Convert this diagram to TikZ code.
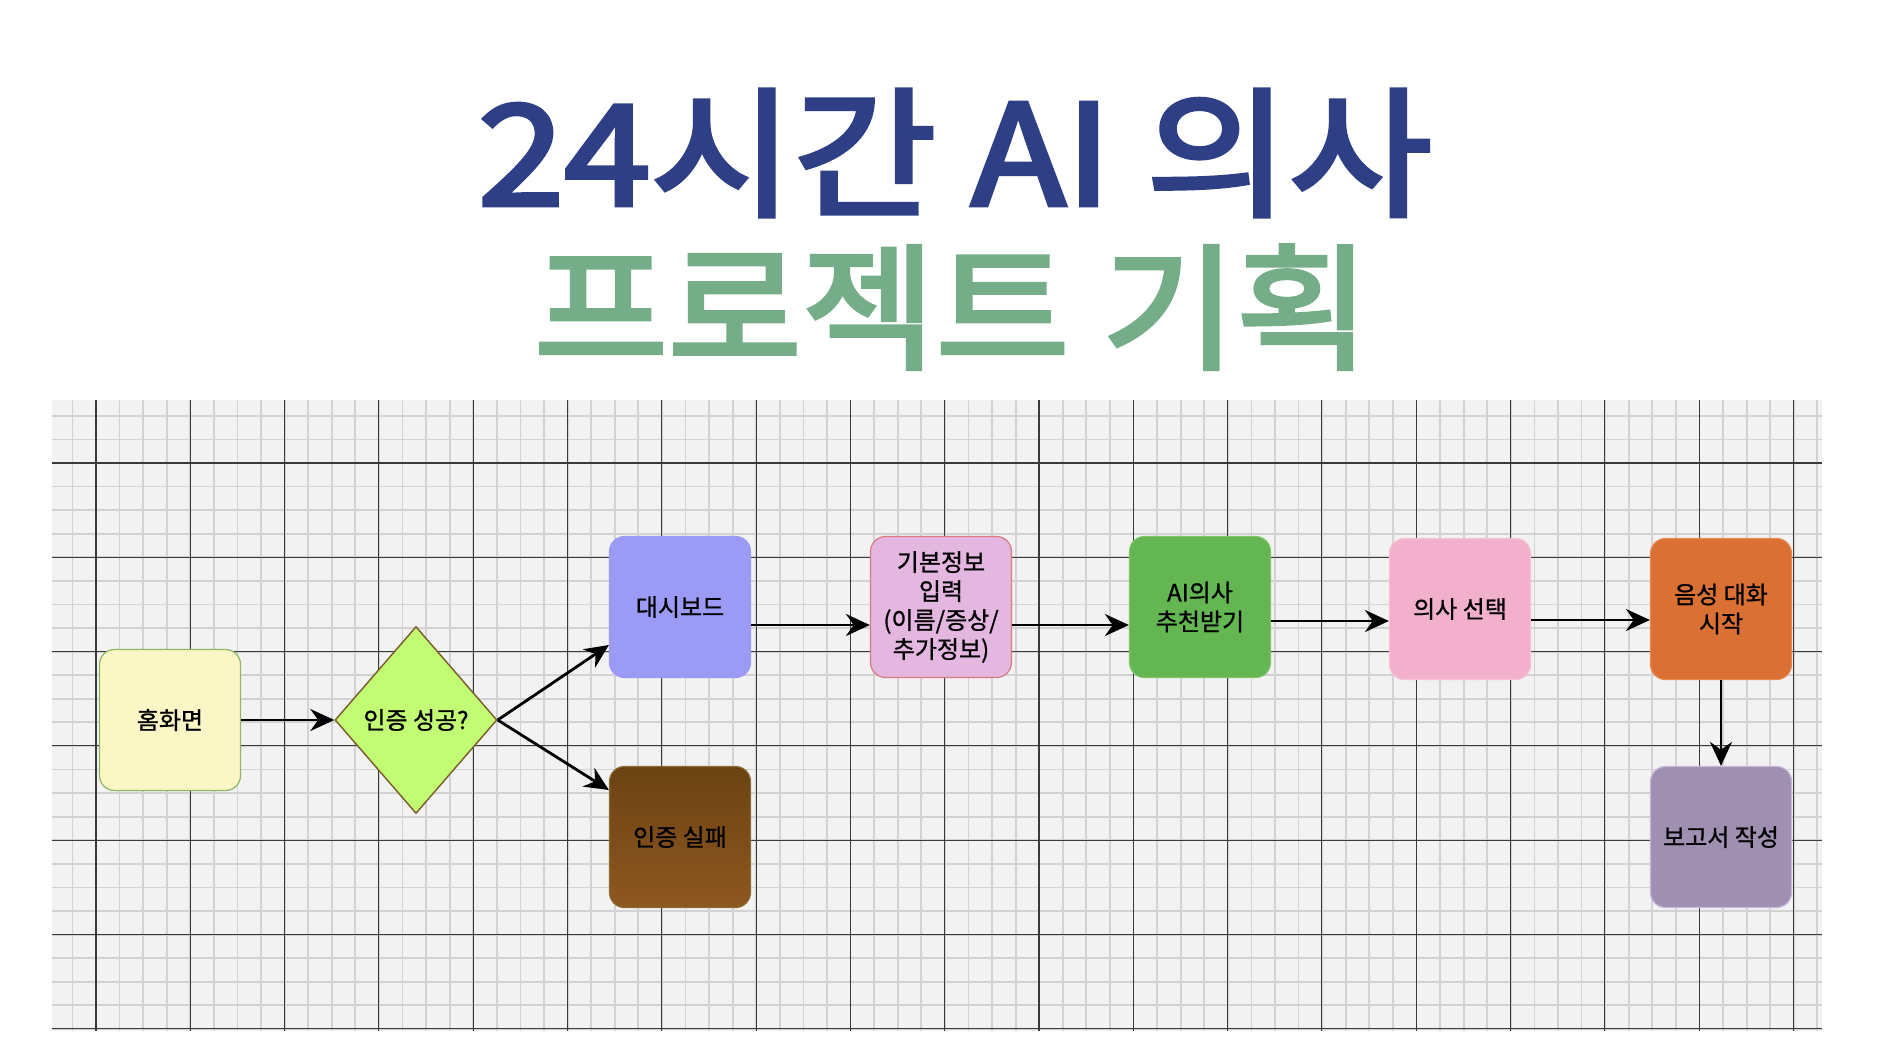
\documentclass[tikz,border=0pt]{standalone}
\usepackage{fontspec}
\usetikzlibrary{shapes.geometric,arrows.meta}
\newfontfamily\kr{Noto Sans CJK KR}[FakeBold=1]
\newfontfamily\krb{Noto Sans CJK KR}[FakeBold=3]
\definecolor{navy}{HTML}{2E3F85}
\definecolor{tgreen}{HTML}{75AD88}
\definecolor{gridbg}{HTML}{F2F2F2}
\definecolor{minorc}{HTML}{D2D2D2}
\definecolor{majorc}{HTML}{3A3A3A}
\definecolor{homef}{HTML}{FAF6C5}\definecolor{homed}{HTML}{8DB863}
\definecolor{authf}{HTML}{C2FC75}\definecolor{authd}{HTML}{7A5A28}
\definecolor{dashf}{HTML}{9B9BF5}
\definecolor{failt}{HTML}{6B4313}\definecolor{failb}{HTML}{8E5720}\definecolor{faild}{HTML}{8B6A2E}
\definecolor{infof}{HTML}{E4B7E0}\definecolor{infod}{HTML}{D97A80}
\definecolor{aif}{HTML}{63B651}\definecolor{aid}{HTML}{7FC36B}
\definecolor{self}{HTML}{F3B0CC}\definecolor{seld}{HTML}{F7C0D4}
\definecolor{voicef}{HTML}{DA7033}\definecolor{voiced}{HTML}{E88A50}
\definecolor{repf}{HTML}{9F8FB0}\definecolor{repd}{HTML}{C6B5DF}
\tikzset{
  box/.style={rounded corners=15pt, minimum width=141pt, minimum height=141pt, line width=1.2pt, font=\kr\fontsize{24}{29}\selectfont, align=center, text=black},
  conn/.style={line width=2.8pt, -{Stealth[length=24pt,width=22pt]}},
}
\begin{document}
\begin{tikzpicture}[x=1pt,y=-1pt]
\useasboundingbox (0,0) rectangle (1884,1058);
\fill[white] (0,0) rectangle (1884,1058);
% grid
\fill[gridbg] (52,400) rectangle (1822,1031);
\begin{scope}
\clip (52,400) rectangle (1822,1031);
\foreach \i in {-3,...,75} {
  \draw[minorc, line width=1.8pt] (96+23.58*\i,400) -- (96+23.58*\i,1031);
}
\foreach \i in {-3,...,25} {
  \draw[minorc, line width=1.8pt] (52,463+23.58*\i) -- (1822,463+23.58*\i);
}
\foreach \i in {0,...,18} {
  \draw[majorc, line width=1.1pt] (96+94.3*\i,400) -- (96+94.3*\i,1031);
}
\foreach \i in {-1,...,6} {
  \draw[majorc, line width=1.1pt] (52,463+94.3*\i) -- (1822,463+94.3*\i);
}
\end{scope}
% title
\node[text=navy, font=\krb\fontsize{140}{140}\selectfont, xscale=1.11] (t1) at (955,153) {24시간 AI 의사};
\node[text=tgreen, font=\krb\fontsize{136}{136}\selectfont, xscale=1.07] (t2) at (952,307) {프로젝트 기획};
% nodes
\node[box, fill=homef, draw=homed] (home) at (170,720) {홈화면};
\node[diamond, aspect=0.87, minimum width=162pt, minimum height=187pt, inner sep=0pt, fill=authf, draw=authd, line width=1.4pt, font=\kr\fontsize{24}{29}\selectfont] (auth) at (416,720) {인증 성공?};
\node[box, fill=dashf, draw=dashf] (dash) at (680,607) {대시보드};
\node[box, top color=failt, bottom color=failb, draw=faild] (fail) at (680,837) {인증 실패};
\node[box, fill=infof, draw=infod] (info) at (941,607) {기본정보\\입력\\(이름/증상/\\추가정보)};
\node[box, fill=aif, draw=aid] (ai) at (1200,607) {AI의사\\추천받기};
\node[box, fill=self, draw=seld] (sel) at (1460,609) {의사 선택};
\node[box, fill=voicef, draw=voiced] (voice) at (1721,609) {음성 대화\\시작};
\node[box, fill=repf, draw=repd] (rep) at (1721,837) {보고서 작성};
% connectors
\draw[conn] (home.east) -- (auth.west);
\draw[conn] (auth.east) -- (dash.west |- 0,645);
\draw[conn] (auth.east) -- (fail.west |- 0,790);
\draw[conn] (dash.east |- 0,625) -- (info.west |- 0,625);
\draw[conn] (info.east |- 0,625) -- (ai.west |- 0,625);
\draw[conn] (ai.east |- 0,621) -- (sel.west |- 0,621);
\draw[conn] (sel.east |- 0,620) -- (voice.west |- 0,620);
\draw[conn] (voice.south) -- (rep.north);
\end{tikzpicture}
\end{document}
